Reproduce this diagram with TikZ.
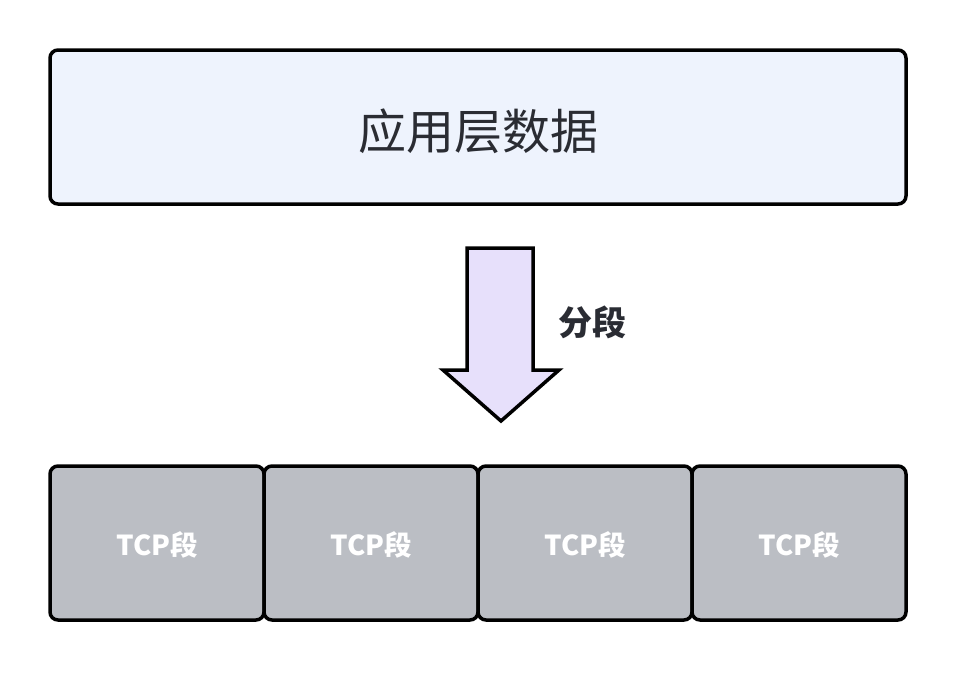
\documentclass[tikz,border=0pt]{standalone}
\usepackage{fontspec}
\setmainfont{Noto Sans CJK SC}
\begin{document}
\begin{tikzpicture}[x=1pt,y=-1pt,
  databox/.style={draw=black,line width=3.5pt,rounded corners=8pt,fill=topfill},
  segbox/.style={draw=black,line width=3.5pt,rounded corners=8pt,fill=segfill},
  seglabel/.style={text=white,font=\fontsize{27.5}{30}\selectfont\bfseries},
]
\definecolor{topfill}{HTML}{EEF3FD}
\definecolor{segfill}{HTML}{BBBEC4}
\definecolor{arrowfill}{HTML}{E7E0FB}
\definecolor{txt}{HTML}{2A2C33}
\useasboundingbox (0,0) rectangle (958,672);
\path[fill=white] (0,0) rectangle (958,672);
% top box
\draw[databox] (50,50) rectangle (906,204);
\node[text=txt,font=\fontsize{48}{52}\selectfont] (top) at (478,131) {应用层数据};
% arrow
\draw[line width=3.5pt,line join=miter,fill=arrowfill] (467,248) -- (533,248) -- (533,370) -- (559,370) -- (501,421) -- (443,370) -- (467,370) -- cycle;
\node[anchor=west,text=txt,font=\fontsize{34}{38}\selectfont\bfseries] (lbl) at (555,322) {分段};
% segments
\foreach \i/\x in {1/50,2/264,3/478,4/692}{
  \draw[segbox] (\x,466) rectangle ({\x+214},620);
  \node[seglabel] (s\i) at ({\x+107},545) {TCP段};
}
\end{tikzpicture}
\end{document}
